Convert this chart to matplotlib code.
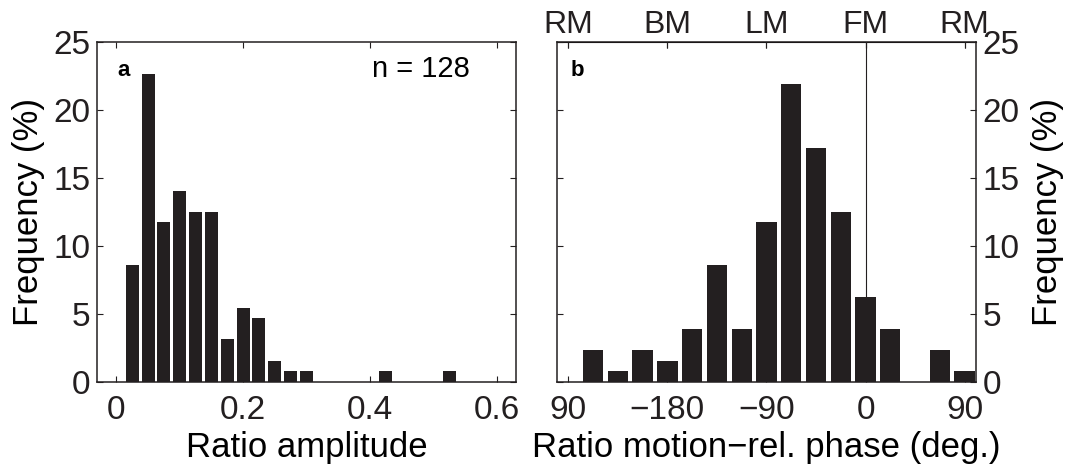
import numpy as np
import matplotlib
matplotlib.use("Agg")
import matplotlib.pyplot as plt

plt.rcParams["font.family"] = ["Liberation Sans", "DejaVu Sans"]

N_TOTAL = 128
COR_BARRA = "#231f20"

# painel a: razao de amplitude (centros dos bins, contagens)
amp_centros = [0.025, 0.05, 0.075, 0.1, 0.125, 0.15, 0.175, 0.2, 0.225,
               0.25, 0.275, 0.3, 0.425, 0.525]
amp_contagem = [11, 29, 15, 18, 16, 16, 4, 7, 6, 2, 1, 1, 1, 1]
amp_ticks = [0, 0.2, 0.4, 0.6]
amp_labels = ["0", "0.2", "0.4", "0.6"]

# painel b: fase relativa (graus)
fase_centros = [-247.5, -225, -202.5, -180, -157.5, -135, -112.5, -90,
                -67.5, -45, -22.5, 0, 22.5, 45, 67.5, 90]
fase_contagem = [3, 1, 3, 2, 5, 11, 5, 15, 28, 22, 16, 8, 5, 0, 3, 1]
fase_ticks = [-270, -180, -90, 0, 90]
fase_labels = ["90", "\u2212180", "\u221290", "0", "90"]
fase_topo = ["RM", "BM", "LM", "FM", "RM"]

freq_ticks = [0, 5, 10, 15, 20, 25]

amp_freq = np.array(amp_contagem) / N_TOTAL * 100
fase_freq = np.array(fase_contagem) / N_TOTAL * 100

fig = plt.figure(figsize=(10.67, 4.67), dpi=100)
ax1 = fig.add_axes([0.0912, 0.182, 0.3921, 0.7287])
ax2 = fig.add_axes([0.5223, 0.182, 0.3921, 0.7287])

for ax in (ax1, ax2):
    for sp in ax.spines.values():
        sp.set_color(COR_BARRA)
        sp.set_linewidth(1.1)
    ax.tick_params(direction="in", length=4, width=0.8, labelsize=24,
                   top=True, right=True, colors=COR_BARRA, pad=5)
    ax.tick_params(axis="x", pad=9)
    ax.set_ylim(0, 25)
    ax.set_yticks(freq_ticks)

# painel a
ax1.bar(amp_centros, amp_freq, width=0.025 * 0.82, color=COR_BARRA, zorder=2)
ax1.set_xlim(-0.03, 0.63)
ax1.set_xticks(amp_ticks, amp_labels)
ax1.set_xlabel("Ratio amplitude", fontsize=25, labelpad=4)
ax1.set_ylabel("Frequency (%)", fontsize=25, labelpad=6)
ax1.text(0.049, 0.945, "a", transform=ax1.transAxes, fontsize=16,
         fontweight="bold", va="top", ha="left")
ax1.text(0.891, 0.96, "n = 128", transform=ax1.transAxes, fontsize=21,
         va="top", ha="right")

# painel b
ax2.axvline(0, color=COR_BARRA, linewidth=0.8, zorder=1)
ax2.bar(fase_centros, fase_freq, width=22.5 * 0.82, color=COR_BARRA, zorder=2)
ax2.set_xlim(-280, 100)
ax2.set_xticks(fase_ticks, fase_labels)
ax2.set_xlabel("Ratio motion\u2212rel. phase (deg.)", fontsize=25, labelpad=4)
ax2.yaxis.set_label_position("right")
ax2.yaxis.tick_right()
ax2.tick_params(left=True, right=True, labelleft=False, labelright=True)
ax2.set_ylabel("Frequency (%)", fontsize=25, labelpad=8, rotation=90)
ax2.text(0.031, 0.945, "b", transform=ax2.transAxes, fontsize=16,
         fontweight="bold", va="top", ha="left")

topo = ax2.secondary_xaxis("top")
topo.set_xticks(fase_ticks, fase_topo)
topo.tick_params(direction="in", length=4, width=0.8, labelsize=23,
                 colors=COR_BARRA, pad=1)

fig.savefig("out.png", dpi=100)
